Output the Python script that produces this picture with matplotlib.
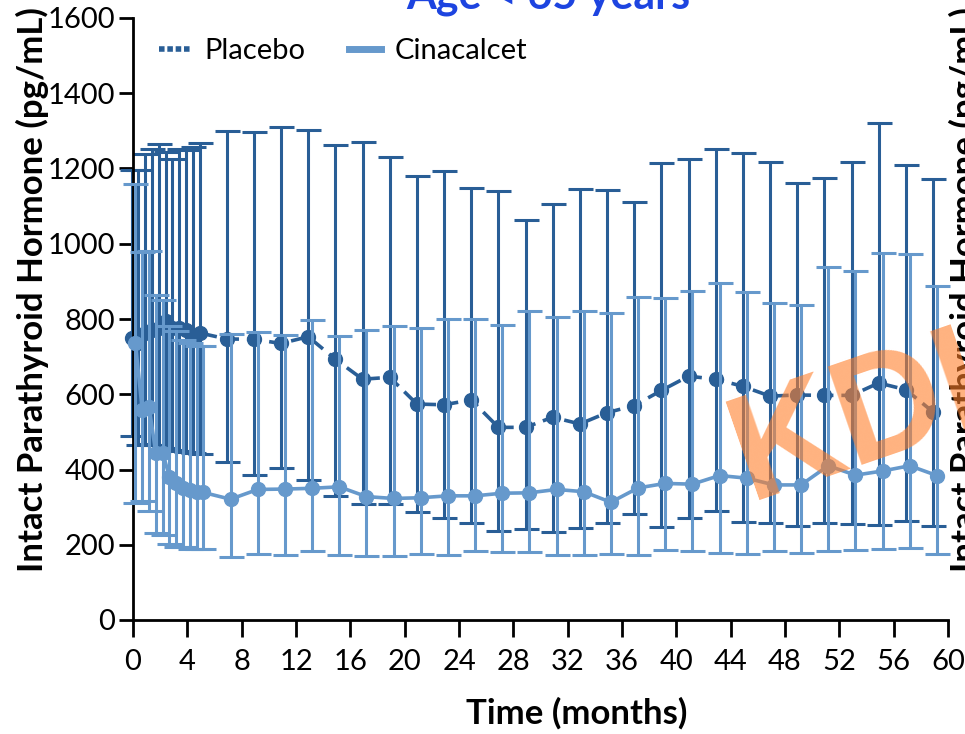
import numpy as np
import matplotlib
matplotlib.use("Agg")
import matplotlib.pyplot as plt
from matplotlib.lines import Line2D

plt.rcParams['font.family'] = ['Lato', 'DejaVu Sans']

# visit times (months): half-monthly to month 5, then every 2 months
months = [0, 0.5, 1, 1.5, 2, 2.5, 3, 3.5, 4, 4.5, 5,
          7, 9, 11, 13, 15, 17, 19, 21, 23, 25, 27, 29, 31, 33, 35,
          37, 39, 41, 43, 45, 47, 49, 51, 53, 55, 57, 59]

placebo_mean = [750, 735, 762, 771, 775, 795, 775, 775, 772, 755, 763,
                747, 746, 735, 753, 693, 640, 645, 574, 572, 585, 512, 512, 539, 521, 551,
                570, 610, 648, 640, 621, 595, 598, 597, 597, 630, 612, 553]
placebo_upper = [1197, 1195, 1239, 1253, 1264, 1243, 1225, 1252, 1250, 1256, 1267,
                 1300, 1298, 1309, 1302, 1262, 1270, 1231, 1181, 1193, 1149, 1141, 1063, 1106, 1145, 1143,
                 1112, 1214, 1224, 1251, 1242, 1216, 1162, 1176, 1217, 1320, 1208, 1171]
placebo_lower = [490, 465, 468, 465, 465, 458, 452, 449, 447, 445, 440,
                 421, 385, 405, 372, 330, 307, 308, 287, 272, 259, 237, 241, 233, 245, 259,
                 283, 246, 272, 290, 261, 259, 251, 259, 256, 253, 264, 250]

cina_mean = [735, 558, 567, 443, 445, 381, 365, 352, 346, 341, 339,
             321, 347, 348, 350, 354, 328, 323, 325, 330, 330, 337, 338, 347, 341, 313,
             351, 363, 361, 384, 377, 359, 359, 410, 385, 396, 410, 384]
cina_upper = [1160, 978, 982, 864, 850, 782, 768, 745, 735, 727, 727,
              760, 765, 757, 797, 756, 771, 782, 777, 801, 800, 784, 822, 806, 822, 815,
              859, 857, 875, 897, 873, 842, 838, 939, 928, 976, 973, 888]
cina_lower = [311, 315, 291, 230, 226, 201, 195, 193, 190, 188, 188,
              168, 175, 173, 184, 172, 169, 170, 175, 173, 183, 180, 180, 173, 173, 175,
              172, 185, 183, 177, 175, 183, 178, 183, 186, 189, 192, 176]

dark = '#295e96'
light = '#6699cc'

fig = plt.figure(figsize=(9.65, 7.34), dpi=100)
ax = fig.add_axes([133 / 965, 114 / 734, 815 / 965, 602 / 734])

t = np.array(months, dtype=float)


def draw(offset, mean, lower, upper, color, ls, z):
    mean = np.array(mean)
    yerr = [mean - np.array(lower), np.array(upper) - mean]
    eb = ax.errorbar(t + offset, mean, yerr=yerr, color=color, ls=ls, lw=2.6,
                     marker='o', ms=10, elinewidth=2.2, capsize=9, capthick=2.2,
                     zorder=z)
    for art in eb.lines[1] + eb.lines[2] + (eb.lines[0],):
        art.set_clip_on(False)
    return eb


draw(-0.1, placebo_mean, placebo_lower, placebo_upper, dark, (0, (4, 2.2)), 2)
draw(0.18, cina_mean, cina_lower, cina_upper, light, '-', 3)

ax.set_xlim(0, 60)
ax.set_ylim(0, 1600)
ax.set_xticks(range(0, 61, 4))
ax.set_yticks(range(0, 1601, 200))
for s in ['top', 'right']:
    ax.spines[s].set_visible(False)
for s in ['left', 'bottom']:
    ax.spines[s].set_linewidth(2)
ax.tick_params(axis='both', direction='out', width=2, labelsize=21, colors='black')
ax.tick_params(axis='x', length=12, pad=9)
ax.tick_params(axis='y', length=10, pad=3)

fig.text(577 / 965, 1 - 713 / 734, 'Time (months)', ha='center', va='center',
         fontsize=25, fontweight='bold')
fig.text(32 / 965, 1 - 290 / 734, 'Intact Parathyroid Hormone (pg/mL)', rotation=90,
         ha='center', va='center', fontsize=25, fontweight='bold')
# neighbouring panel's axis title, running off the right edge
fig.text(949 / 965, 1 - 290 / 734, 'Intact Parathyroid Hormone (pg/mL)', rotation=90,
         ha='left', va='center', fontsize=25, fontweight='bold')

fig.text(548 / 965, 1 - 9 / 734, 'Age < 65 years', ha='center', va='baseline',
         fontsize=31, fontweight='bold', color='#1d44e0')

handles = [Line2D([], [], color=dark, lw=4, ls=(0, (1, 0.5))),
           Line2D([], [], color=light, lw=5, ls='-')]
ax.legend(handles, ['Placebo', 'Cinacalcet'], loc='upper left', ncol=2,
          frameon=False, fontsize=21, handlelength=1.1, columnspacing=1.5,
          handletextpad=0.45, bbox_to_anchor=(0.0, 1.01))

# watermark
fig.text(750 / 965, 1 - 500 / 734, 'KDIGO', rotation=19, rotation_mode='anchor',
         ha='left', va='baseline', fontsize=108, color='#ff7f2a', alpha=0.6,
         family='Liberation Sans', fontweight='bold', zorder=10)

fig.savefig('out.png', dpi=100)
